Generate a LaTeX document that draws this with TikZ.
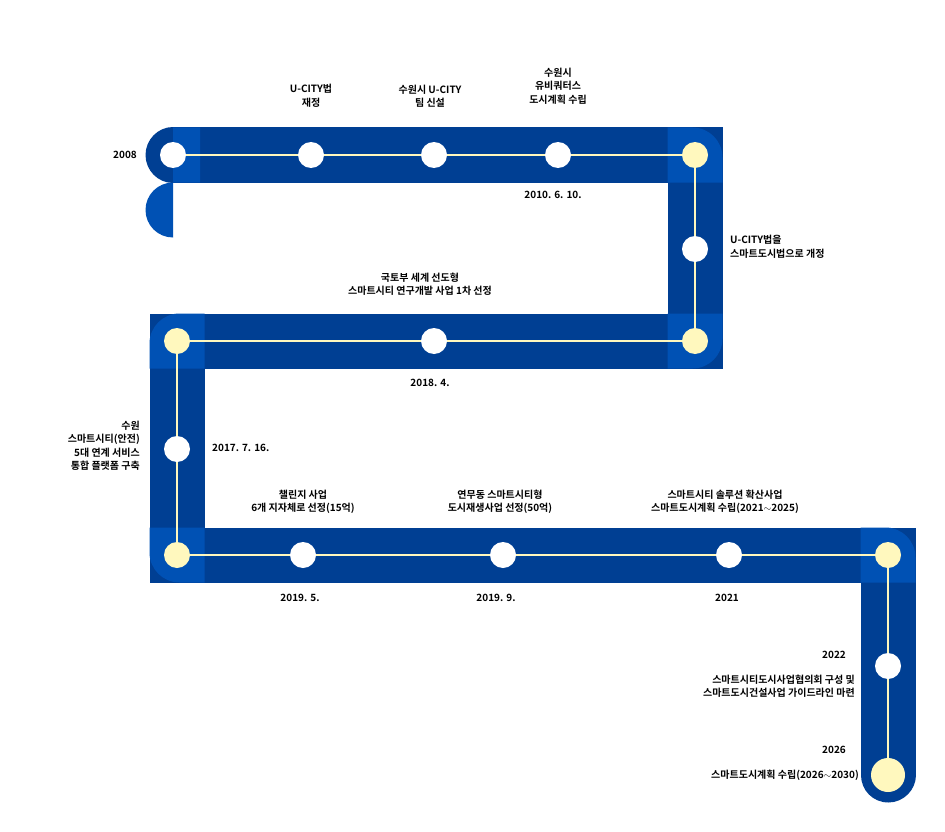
\documentclass[tikz,border=0pt]{standalone}
\usepackage{fontspec}
\setmainfont{Noto Sans CJK KR}[BoldFont={* Bold}]
\usetikzlibrary{positioning}
\definecolor{banddark}{HTML}{003F93}
\definecolor{bandlight}{HTML}{0051B4}
\definecolor{stopyellow}{HTML}{FFF8BE}
\tikzset{>=stealth,
  stopwhite/.style={circle,fill=white,inner sep=0pt,minimum size=26pt},
  stopsun/.style={circle,fill=stopyellow,inner sep=0pt,minimum size=26pt},
  lbl/.style={font=\fontsize{10}{13.5}\selectfont\bfseries,align=center,inner sep=0pt}}
\begin{document}
\begin{tikzpicture}[x=1pt,y=-1pt]
\useasboundingbox (0,0) rectangle (945,832);

% the band
\draw[banddark,line width=55pt,line cap=round,miter limit=10]
  (173,155) -- (695,155) -- (695,341) -- (177,341) -- (177,555) -- (888,555) -- (888,775);
% lighter corner pieces
\fill[bandlight] (173,127.5) -- (200,127.5) -- (200,182.5) -- (173,182.5) arc (270:90:27.5) -- cycle;
\fill[bandlight] (667.5,182.5) -- (667.5,127.5) [rounded corners=30] -- (722.5,127.5) [sharp corners] -- (722.5,182.5) -- cycle;
\fill[bandlight] (667.5,313.5) -- (722.5,313.5) [rounded corners=30] -- (722.5,368.5) [sharp corners] -- (667.5,368.5) -- cycle;
\fill[bandlight] (204.5,368.5) -- (204.5,313.5) [rounded corners=30] -- (149.5,313.5) [sharp corners] -- (149.5,368.5) -- cycle;
\fill[bandlight] (204.5,527.5) -- (149.5,527.5) [rounded corners=30] -- (149.5,582.5) [sharp corners] -- (204.5,582.5) -- cycle;
\fill[bandlight] (860.5,582.5) -- (860.5,527.5) [rounded corners=30] -- (915.5,527.5) [sharp corners] -- (915.5,582.5) -- cycle;

% stops
\node[stopwhite] (s0) at (173,155) {};
\foreach \x/\n in {311/s1,434/s2,558/s3} \node[stopwhite] (\n) at (\x,155) {};
\node[stopsun] (c1) at (695,155) {};
\node[stopwhite] (v1) at (695,249) {};
\node[stopsun] (c2) at (695,341) {};
\node[stopwhite] (m1) at (434,341) {};
\node[stopsun] (c3) at (177,341) {};
\node[stopwhite] (v2) at (177,449) {};
\node[stopsun] (c4) at (177,555) {};
\foreach \x/\n in {303/b1,503/b2,729/b3} \node[stopwhite] (\n) at (\x,555) {};
\node[stopsun] (c5) at (888,555) {};
\node[stopwhite] (v3) at (888,666) {};
\node[stopsun,minimum size=34pt] (fin) at (888,775) {};

% the thin line
\begin{scope}[on background layer/.style={}]
\draw[stopyellow,line width=2.2pt] (s0) -- (s1) -- (s2) -- (s3) -- (c1) -- (v1) -- (c2) -- (m1) -- (c3) -- (v2) -- (c4) -- (b1) -- (b2) -- (b3) -- (c5) -- (v3) -- (fin);
\end{scope}

% labels
\node[lbl,anchor=east] at (137,155) {2008};
\node[lbl] at (311,96) {U-CITY법\\재정};
\node[lbl] at (430,96) {수원시 U-CITY\\팀 신설};
\node[lbl] at (558,86) {수원시\\유비쿼터스\\도시계획 수립};
\node[lbl] at (553,195) {2010. 6. 10.};
\node[lbl,anchor=west,align=left] at (730,247) {U-CITY법을\\스마트도시법으로 개정};
\node[lbl] at (420,284) {국토부 세계 선도형\\스마트시티 연구개발 사업 1차 선정};
\node[lbl] at (430,383) {2018. 4.};
\node[lbl,anchor=east,align=right] at (140,446) {수원\\스마트시티(안전)\\5대 연계 서비스\\통합 플랫폼 구축};
\node[lbl,anchor=west] at (212,448) {2017. 7. 16.};
\node[lbl] at (303,502) {챌린지 사업\\6개 지자체로 선정(15억)};
\node[lbl] at (500,502) {연무동 스마트시티형\\도시재생사업 선정(50억)};
\node[lbl] at (725,502) {스마트시티 솔루션 확산사업\\스마트도시계획 수립(2021$\sim$2025)};
\node[lbl] at (300,598) {2019. 5.};
\node[lbl] at (496,598) {2019. 9.};
\node[lbl] at (727,598) {2021};
\node[lbl,anchor=east] at (846,655) {2022};
\node[lbl,anchor=east,align=right] at (855,686) {스마트시티도시사업협의회 구성 및\\스마트도시건설사업 가이드라인 마련};
\node[lbl,anchor=east] at (846,750) {2026};
\node[lbl,anchor=east] at (859,775) {스마트도시계획 수립(2026$\sim$2030)};
\end{tikzpicture}
\end{document}
